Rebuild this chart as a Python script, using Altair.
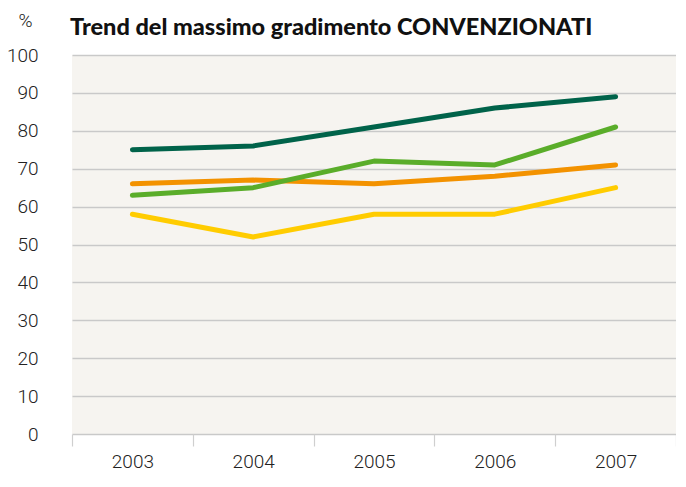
import altair as alt
import pandas as pd

years = ["2003", "2004", "2005", "2006", "2007"]
dark_green = [75, 76, 81, 86, 89]
light_green = [63, 65, 72, 71, 81]
orange = [66, 67, 66, 68, 71]
yellow = [58, 52, 58, 58, 65]

series_names = ["yellow", "orange", "light_green", "dark_green"]
series_values = [yellow, orange, light_green, dark_green]
series_colors = ["#ffcc00", "#f39200", "#5aad2a", "#00634a"]

rows = []
for name, vals in zip(series_names, series_values):
    for y, v in zip(years, vals):
        rows.append({"year": y, "value": v, "series": name})
df = pd.DataFrame(rows)

label_font = "Roboto"

chart = alt.Chart(df).mark_line(strokeWidth=5, strokeCap="round", strokeJoin="round").encode(
    x=alt.X("year:N", sort=years,
            scale=alt.Scale(paddingInner=0, paddingOuter=0),
            axis=alt.Axis(title=None, labelAngle=0, tickBand="extent", ticks=True,
                          tickSize=12, tickColor="#cfcfcf", tickWidth=1.2,
                          domain=False, grid=False, labelPadding=6,
                          labelFont=label_font, labelFontWeight=300, labelFontSize=19,
                          labelColor="#222222")),
    y=alt.Y("value:Q", scale=alt.Scale(domain=[0, 100], nice=False),
            axis=alt.Axis(values=list(range(0, 101, 10)), title="%", titleAngle=0,
                          titleX=-54, titleY=-29, titleAlign="left", titleBaseline="alphabetic",
                          titleFont=label_font, titleFontWeight=300, titleFontSize=19,
                          titleColor="#222222",
                          ticks=False, domain=False, grid=True, gridColor="#c9c9c9",
                          gridWidth=1.5, labelPadding=34,
                          labelFont=label_font, labelFontWeight=300, labelFontSize=19,
                          labelColor="#222222")),
    color=alt.Color("series:N", scale=alt.Scale(domain=series_names, range=series_colors),
                    legend=None),
    order=alt.Order("series:N"),
).properties(
    width=604,
    height=379,
    autosize=alt.AutoSizeParams(type="none"),
    padding={"left": 64, "top": 47, "right": 0, "bottom": 40},
    background="white",
    title=alt.TitleParams("Trend del massimo gradimento CONVENZIONATI", anchor="start",
                          frame="group", font="Lato", fontWeight=900, fontSize=23.5,
                          color="#111111", offset=-28, dx=-2),
).configure_view(fill="#f6f4f0", stroke=None)

chart.save("out.html", embed_options={"renderer": "svg", "actions": False})
